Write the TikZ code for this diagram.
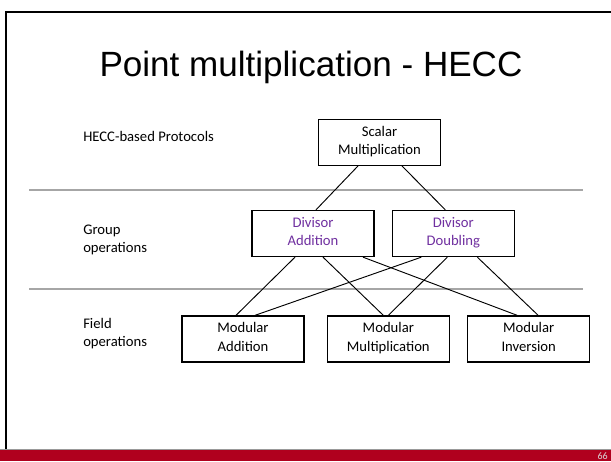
\documentclass[tikz,border=0pt]{standalone}
\usepackage{fontspec}
\setmainfont{Carlito}
\newfontfamily\titlefont{Liberation Sans}
\usetikzlibrary{positioning, calc}
\definecolor{slidered}{RGB}{176,0,30}
\definecolor{divpurple}{RGB}{112,48,160}
\newcommand{\topstrut}{\rule{0pt}{13.3pt}}
\newcommand{\botstrut}{\rule[-3pt]{0pt}{3pt}}

\begin{document}
\begin{tikzpicture}[
    x=0.75pt, y=-0.75pt,
    font=\fontsize{11}{13.7}\selectfont,
    opbox/.style={rectangle, draw=black, line width=1pt, fill=white, minimum width=91.5pt, minimum height=34.5pt, inner sep=1pt, align=center, execute at begin node=\topstrut, execute at end node=\botstrut},
    layer/.style={anchor=west, inner sep=0pt, align=left, execute at begin node=\topstrut, execute at end node=\botstrut},
    link/.style={draw=black, line width=0.7pt},
    sep/.style={draw=black!35, line width=1.1pt}
  ]
    \useasboundingbox (0,0) rectangle (611,461);
    \fill[white] (0,0) rectangle (611,461);
    % slide frame and footer
    \draw[line width=1.9pt] (6,450) -- (6,12) -- (611,12);
    \fill[slidered] (0,449.5) rectangle (611,461);
    \draw[black!40, line width=0.5pt] (0,449.5) -- (611,449.5);
    \node[anchor=base east, inner sep=0pt, text=white!85!black, font=\fontsize{7.5}{9}\selectfont] (pagenum) at (608,459) {66};
    \node[anchor=base, inner sep=0pt, font=\titlefont\fontsize{26.3}{30}\selectfont] (title) at (311,76) {Point multiplication - HECC};
    % layer separators and names
    \draw[sep] (29,190) -- (583,190);
    \draw[sep] (29,289) -- (583,289);
    \node[layer] (proto) at (83,135) {HECC-based Protocols};
    \node[layer] (group) at (83,241) {Group\\operations};
    \node[layer] (field) at (83,334.3) {Field\\operations};
    % operations
    \node[opbox] (scalar) at (379.5,142.3) {Scalar\\Multiplication};
    \node[opbox, text=divpurple] (divadd) at (313,233.5) {Divisor\\Addition};
    \node[opbox, text=divpurple, right=12.75pt of divadd] (divdbl) {Divisor\\Doubling};
    \node[opbox] (modadd) at (243,339) {Modular\\Addition};
    \node[opbox, right=16.5pt of modadd] (modmult) {Modular\\Multiplication};
    \node[opbox, right=12.75pt of modmult] (modinv) {Modular\\Inversion};
    \draw[link] ($(scalar.south)+(-21.5,0)$) -- ($(divadd.north)+(3,0)$);
    \draw[link] ($(scalar.south)+(22.5,0)$) -- ($(divdbl.north)+(-8,0)$);
    \draw[link] ($(divadd.south)+(-18,0)$) -- ($(modadd.north)+(-7,0)$);
    \draw[link] ($(divadd.south)+(10,0)$) -- ($(modmult.north)+(-5,0)$);
    \draw[link] ($(divadd.south)+(50,0)$) -- ($(modinv.north)+(-11.5,0)$);
    \draw[link] ($(divdbl.south)+(-32,0)$) -- ($(modadd.north)+(12,0)$);
    \draw[link] ($(divdbl.south)+(-6,0)$) -- (modmult.north);
    \draw[link] ($(divdbl.south)+(24,0)$) -- ($(modinv.north)+(9.5,0)$);
\end{tikzpicture}
\end{document}
